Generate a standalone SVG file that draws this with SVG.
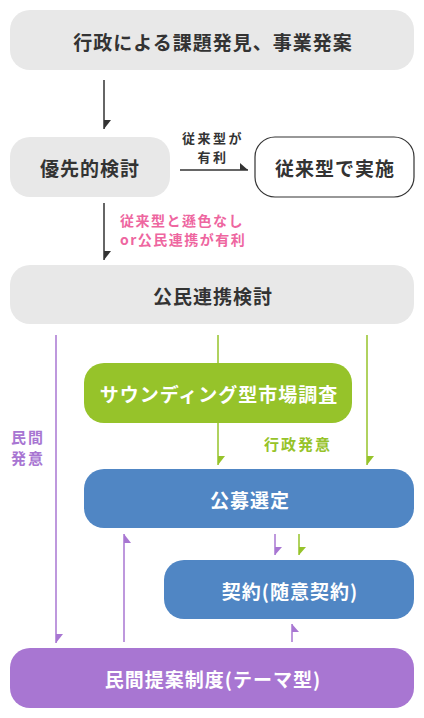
<svg xmlns="http://www.w3.org/2000/svg" width="424" height="718" viewBox="0 0 424 718">
<style>
text{font-family:"Noto Sans CJK JP","Noto Sans",sans-serif;font-weight:bold;}
.n{font-size:19px;letter-spacing:1px;text-anchor:middle;dominant-baseline:central;}
.dk{fill:#333333;}
.wt{fill:#ffffff;}
.lb{font-size:14px;letter-spacing:1.5px;}
.gray{fill:#e8e8e8;}
.ln{fill:none;stroke-width:1.5;}
.k{stroke:#333333;}
.p{stroke:#a876d2;}
.g{stroke:#96c32a;}
</style>
<rect width="424" height="718" fill="#ffffff"/>
<g id="connectors">
  <line class="ln k" x1="104" y1="80" x2="104" y2="129"/>
  <polygon points="104,120 111,120 104,129" fill="#333333"/>
  <line class="ln k" x1="180" y1="170" x2="248" y2="170"/>
  <polygon points="240,163 248,170 240,170" fill="#333333"/>
  <line class="ln k" x1="104" y1="203" x2="104" y2="260"/>
  <polygon points="104,251 111,251 104,260" fill="#333333"/>
  <line class="ln p" x1="56" y1="335" x2="56" y2="643"/>
  <polygon points="56,634 63,634 56,643" fill="#a876d2"/>
  <line class="ln g" x1="218" y1="335" x2="218" y2="363"/>
  <line class="ln g" x1="218" y1="423" x2="218" y2="465"/>
  <polygon points="218,456 225,456 218,465" fill="#96c32a"/>
  <line class="ln g" x1="367" y1="335" x2="367" y2="465"/>
  <polygon points="367,456 374,456 367,465" fill="#96c32a"/>
  <line class="ln p" x1="124" y1="642" x2="124" y2="534"/>
  <polygon points="124,534 131,543 124,543" fill="#a876d2"/>
  <line class="ln p" x1="275" y1="534" x2="275" y2="555"/>
  <polygon points="275,547 282,547 275,555" fill="#a876d2"/>
  <line class="ln g" x1="299" y1="534" x2="299" y2="555"/>
  <polygon points="299,547 306,547 299,555" fill="#96c32a"/>
  <line class="ln p" x1="292" y1="642" x2="292" y2="624"/>
  <polygon points="292,624 299,632 292,632" fill="#a876d2"/>
  <text class="lb dk" x="213" y="143" text-anchor="middle" style="font-size:13px;letter-spacing:2.5px">従来型が</text>
  <text class="lb dk" x="213" y="162" text-anchor="middle" style="font-size:13px;letter-spacing:2.5px">有利</text>
  <text class="lb" x="120" y="226" fill="#ee66a0" letter-spacing="1.8">従来型と遜色なし</text>
  <text class="lb" x="120" y="245" fill="#ee66a0" letter-spacing="1.8">or公民連携が有利</text>
  <text class="lb" x="264" y="450" fill="#96c32a" style="font-size:15px;letter-spacing:2px">行政発意</text>
  <text class="lb" x="11" y="443" fill="#a876d2" style="font-size:15px;letter-spacing:2px">民間</text>
  <text class="lb" x="11" y="464" fill="#a876d2" style="font-size:15px;letter-spacing:2px">発意</text>
</g>
<g id="node-start">
  <rect class="gray" x="10" y="10" width="404" height="60" rx="20"/>
  <text class="n dk" x="213" y="41">行政による課題発見、事業発案</text>
</g>
<g id="node-priority">
  <rect class="gray" x="10" y="137" width="160" height="60" rx="20"/>
  <text class="n dk" x="90" y="167">優先的検討</text>
</g>
<g id="node-conventional">
  <rect x="255" y="137" width="159" height="60" rx="20" fill="#ffffff" stroke="#333333" stroke-width="1.2"/>
  <text class="n dk" x="335" y="167">従来型で実施</text>
</g>
<g id="node-ppp">
  <rect class="gray" x="10" y="265" width="404" height="59" rx="20"/>
  <text class="n dk" x="213" y="295">公民連携検討</text>
</g>
<g id="node-sounding">
  <rect x="84" y="363" width="268" height="60" rx="20" fill="#96c32a"/>
  <text class="n wt" x="219" y="393">サウンディング型市場調査</text>
</g>
<g id="node-public">
  <rect x="84" y="469" width="330" height="59" rx="20" fill="#5086c4"/>
  <text class="n wt" x="250" y="499">公募選定</text>
</g>
<g id="node-contract">
  <rect x="164" y="560" width="250" height="59" rx="20" fill="#5086c4"/>
  <text class="n wt" x="290" y="590">契約(随意契約)</text>
</g>
<g id="node-proposal">
  <rect x="10" y="648" width="404" height="60" rx="20" fill="#a876d2"/>
  <text class="n wt" x="213" y="678">民間提案制度(テーマ型)</text>
</g>
</svg>
